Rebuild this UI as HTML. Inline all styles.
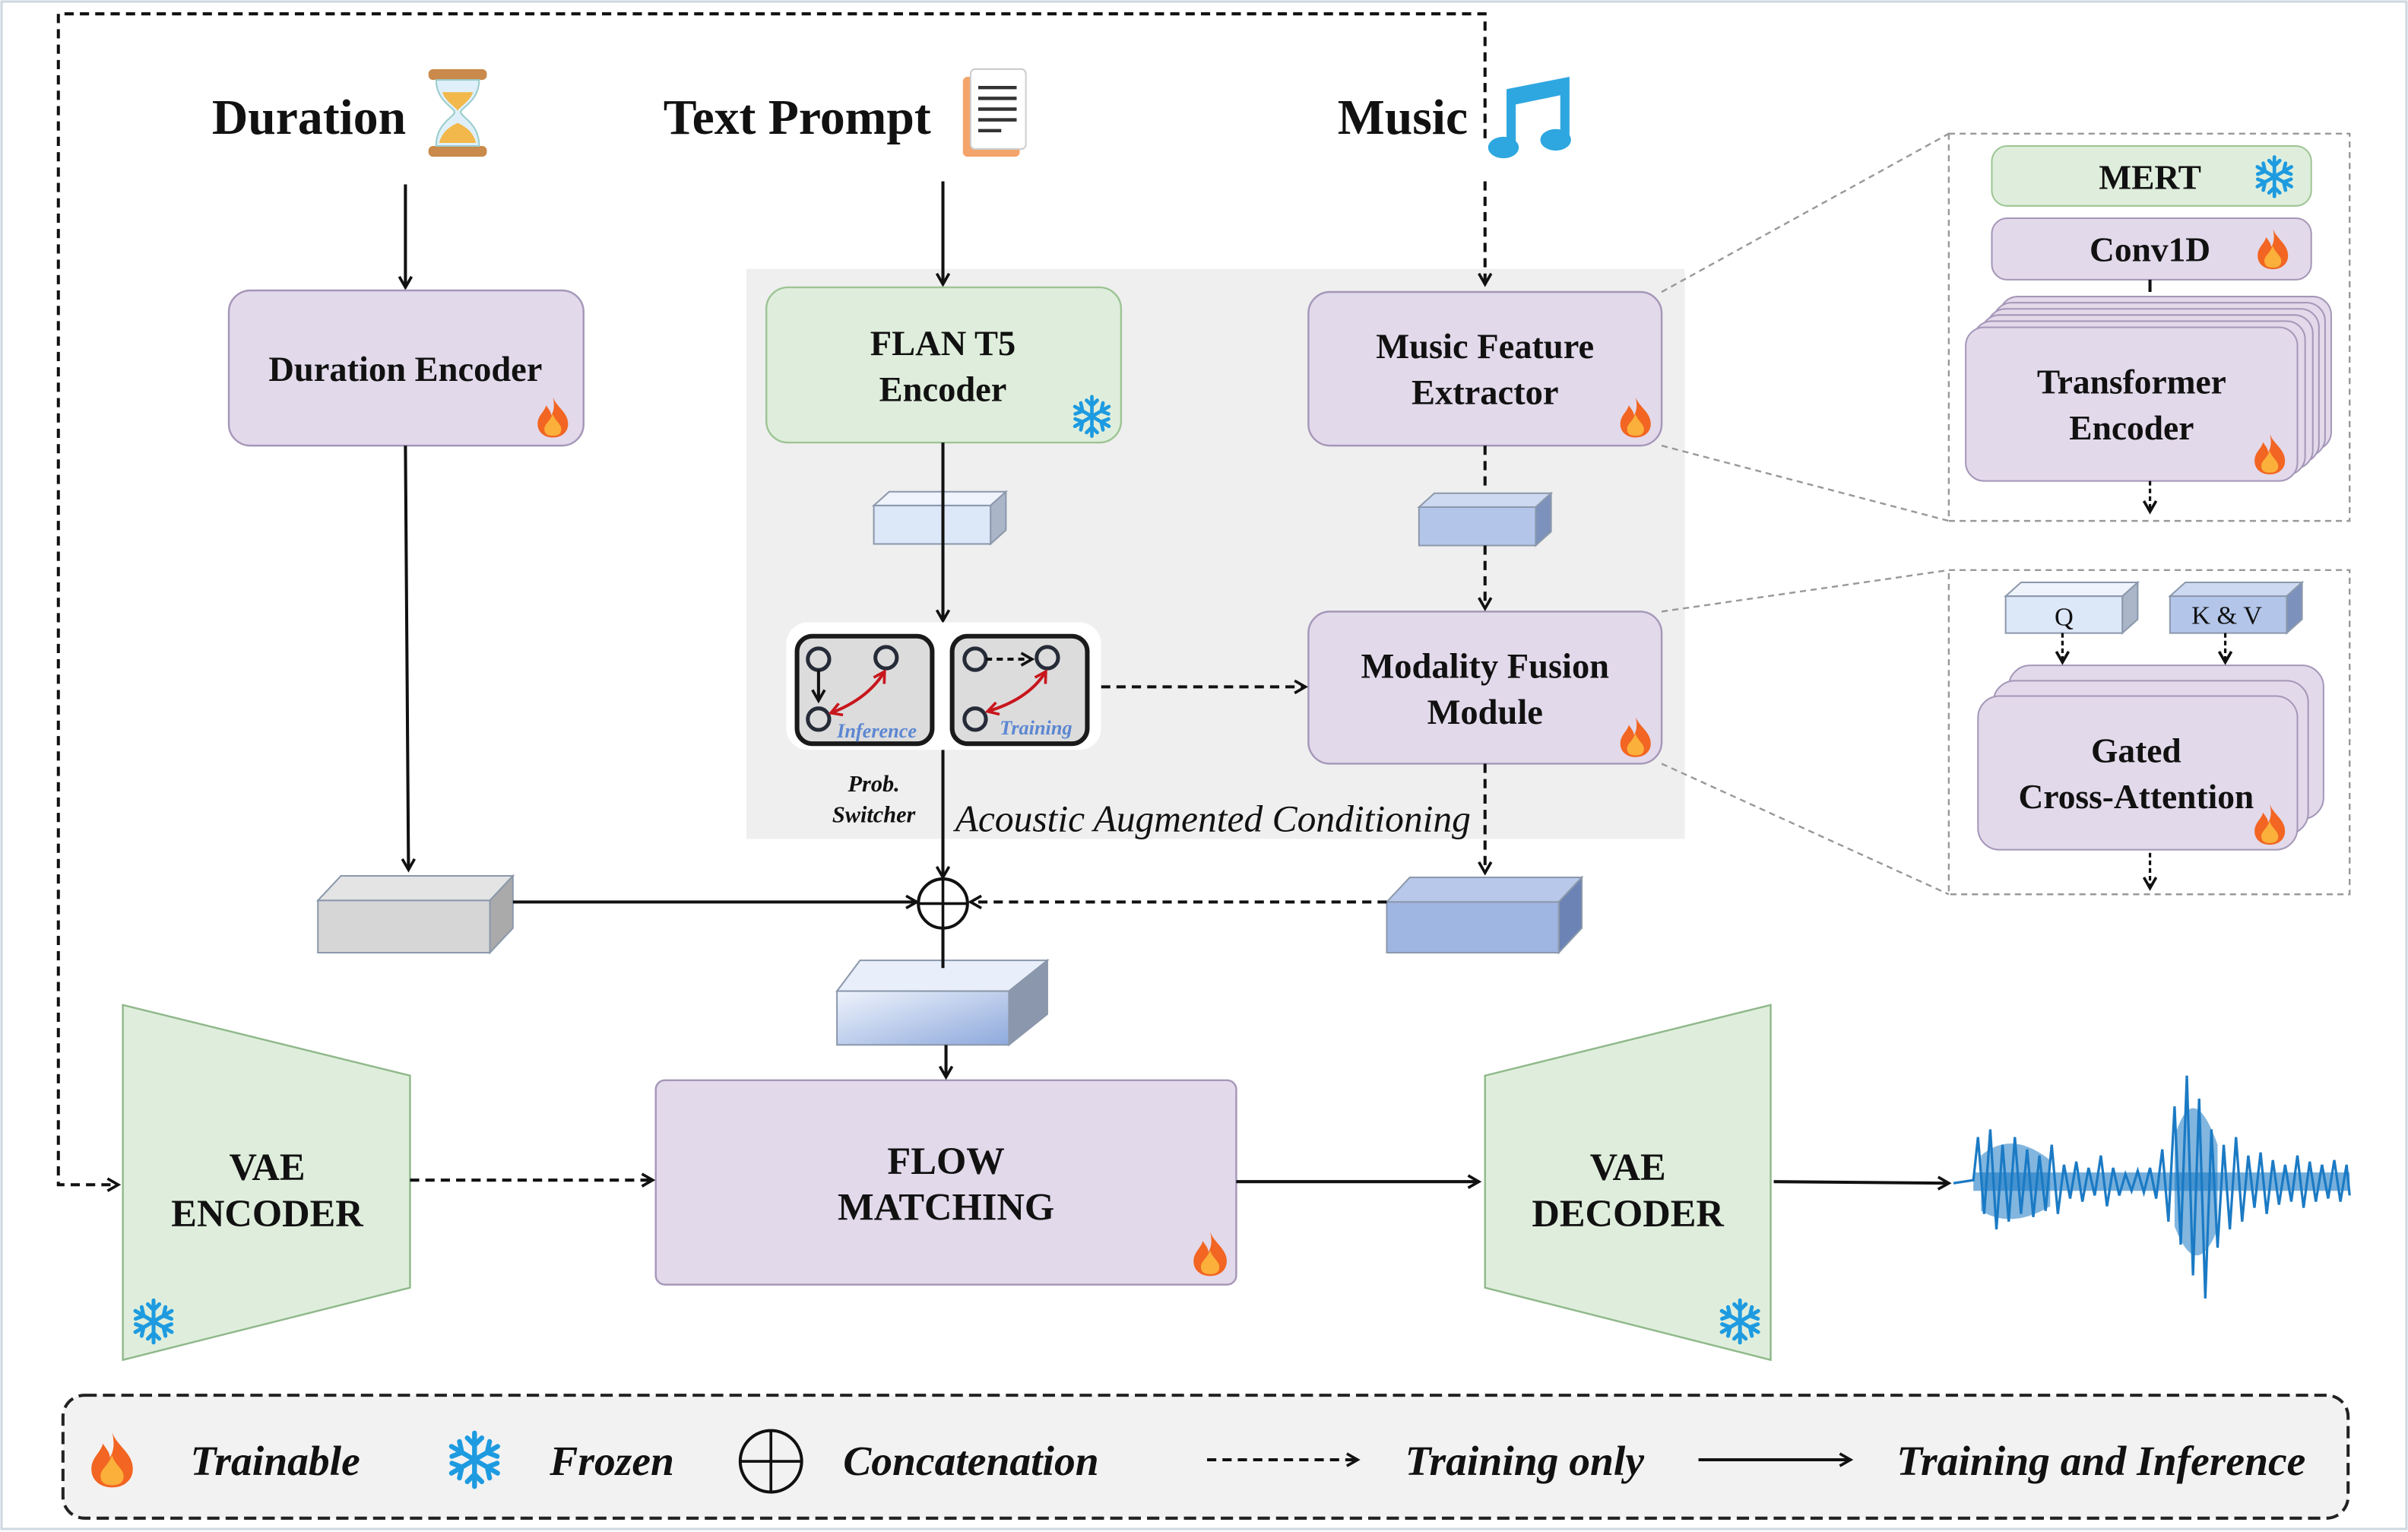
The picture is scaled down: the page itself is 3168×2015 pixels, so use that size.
<!DOCTYPE html>
<html><head><meta charset="utf-8"><style>html,body{margin:0;padding:0;background:#fff}svg{display:block}</style></head>
<body>
<svg width="3168" height="2015" viewBox="0 0 1568 997" preserveAspectRatio="none" xmlns="http://www.w3.org/2000/svg" font-family="'Liberation Serif',serif">
<defs>
<marker id="ah" markerWidth="10" markerHeight="10" refX="8" refY="5" orient="auto" markerUnits="userSpaceOnUse"><path d="M1,1 L8,5 L1,9" fill="none" stroke="#111" stroke-width="1.8"/></marker>
<marker id="ahr" markerWidth="10" markerHeight="10" refX="8" refY="5" orient="auto-start-reverse" markerUnits="userSpaceOnUse"><path d="M1,1 L8,5 L1,9" fill="none" stroke="#c8161d" stroke-width="1.8"/></marker>
<symbol id="flame" viewBox="0 0 20 26"><path d="M10,1 C12,7 19,10 19,17 C19,22 15,25 10,25 C5,25 1,22 1,17 C1,12 5,10 6,6 C8,9 9,10 9,12 C11,9 11,5 10,1Z" fill="#f26522"/><path d="M10,11 C11,15 15,17 15,20 C15,23 13,24 10,24 C7,24 5,23 5,20 C5,17 8,16 10,11Z" fill="#fbb03b"/></symbol>
<symbol id="snow" viewBox="-12 -12 24 24"><g stroke="#1e9be0" stroke-width="2" fill="none" stroke-linecap="round"><path d="M0,-11V11M-9.5,-5.5L9.5,5.5M-9.5,5.5L9.5,-5.5"/><path d="M-3,-9L0,-6L3,-9M-3,9L0,6L3,9M-9.3,-1.4L-5.2,-3L-6.2,-7.5M9.3,1.4L5.2,3L6.2,7.5M-9.3,1.4L-5.2,3L-6.2,7.5M9.3,-1.4L5.2,-3L6.2,-7.5"/></g></symbol>
<linearGradient id="gcube" x1="0" y1="0" x2="1" y2="1"><stop offset="0" stop-color="#eef3fc"/><stop offset="1" stop-color="#8ea9dc"/></linearGradient>
</defs>
<rect x="1" y="1" width="1566" height="994" fill="#fff" stroke="#cfd8e0" stroke-width="1.5"/>
<rect x="486" y="175" width="611" height="371" fill="#efefef"/>
<path d="M967,90 V9 H38 V771 H77" fill="none" stroke="#111" stroke-width="2" stroke-dasharray="6,4" marker-end="url(#ah)"/>
<g font-weight="bold" font-size="32.5" fill="#111">
<text x="138" y="87">Duration</text><text x="432" y="87">Text Prompt</text><text x="871" y="87">Music</text></g>
<g><rect x="279" y="45" width="38" height="7" rx="3" fill="#c98a4b"/><rect x="279" y="95" width="38" height="7" rx="3" fill="#c98a4b"/><path d="M284,52 H312 C312,66 300,70 300,73 C300,76 312,80 312,95 H284 C284,80 296,76 296,73 C296,70 284,66 284,52Z" fill="#dff0fa" stroke="#9cc" stroke-width="1"/><path d="M288,60 H308 C306,66 300,69 298,72 C296,69 290,66 288,60Z" fill="#f2b84b"/><path d="M286,93 C288,85 294,82 298,80 C302,82 308,85 310,93Z" fill="#f2b84b"/></g>
<g><rect x="627" y="50" width="37" height="52" rx="3" fill="#f4a46a"/><rect x="632" y="45" width="36" height="52" rx="3" fill="#fff" stroke="#ccc"/><g stroke="#333" stroke-width="2.2"><path d="M637,57H662M637,64H662M637,71H662M637,78H662M637,85H652"/></g></g>
<g fill="#2ea7e0"><path d="M981,58 L1022,50 V92 L1016,92 V62 L987,68 V96 L981,96Z"/><ellipse cx="979" cy="96" rx="10" ry="7"/><ellipse cx="1013" cy="91" rx="10" ry="7"/></g>
<g stroke="#111" stroke-width="2" fill="none">
<path d="M264,120 V187" marker-end="url(#ah)"/>
<path d="M614,118 V185" marker-end="url(#ah)"/>
<path d="M967,118 V185" stroke-dasharray="6,4" marker-end="url(#ah)"/>
</g>
<g stroke-width="1.2">
<rect x="149" y="189" width="231" height="101" rx="14" fill="#e2d9ea" stroke="#a597b8"/>
<rect x="499" y="187" width="231" height="101" rx="14" fill="#dfeedc" stroke="#9dc494"/>
<rect x="852" y="190" width="230" height="100" rx="14" fill="#e2d9ea" stroke="#a597b8"/>
<rect x="852" y="398" width="230" height="99" rx="14" fill="#e2d9ea" stroke="#a597b8"/>
<rect x="427" y="703" width="378" height="133" rx="6" fill="#e2d9ea" stroke="#a597b8"/>
</g>
<path d="M80,654 L267,700 V838 L80,885Z" fill="#dfeedc" stroke="#8fb88a" stroke-width="1.2"/>
<path d="M967,700 L1153,654 V885 L967,838Z" fill="#dfeedc" stroke="#8fb88a" stroke-width="1.2"/>
<use href="#snow" x="85" y="845" width="30" height="30"/>
<use href="#snow" x="1118" y="845" width="30" height="30"/>
<g font-weight="bold" font-size="23" fill="#111" text-anchor="middle">
<text x="264" y="248">Duration Encoder</text>
<text x="614" y="231">FLAN T5</text><text x="614" y="261">Encoder</text>
<text x="967" y="233">Music Feature</text><text x="967" y="263">Extractor</text>
<text x="967" y="441">Modality Fusion</text><text x="967" y="471">Module</text>
<text x="616" y="764" font-size="25">FLOW</text><text x="616" y="794" font-size="25">MATCHING</text>
<text x="174" y="768" font-size="25">VAE</text><text x="174" y="798" font-size="25">ENCODER</text>
<text x="1060" y="768" font-size="25">VAE</text><text x="1060" y="798" font-size="25">DECODER</text>
</g>
<use href="#flame" x="349" y="257" width="22" height="29"/>
<use href="#snow" x="697" y="257" width="28" height="28"/>
<use href="#flame" x="1054" y="257" width="22" height="29"/>
<use href="#flame" x="1054" y="465" width="22" height="29"/>
<use href="#flame" x="776" y="800" width="24" height="32"/>
<g stroke="#8b98ab" stroke-width="1">
<path d="M569,329 L579,320 H655 L645,329Z" fill="#eef3fc"/><path d="M645,329 L655,320 V345 L645,354Z" fill="#aab6c8"/><rect x="569" y="329" width="76" height="25" fill="#dce7f8"/>
<path d="M924,330 L934,321 H1010 L1000,330Z" fill="#cdd9f0"/><path d="M1000,330 L1010,321 V346 L1000,355Z" fill="#7c92bd"/><rect x="924" y="330" width="76" height="25" fill="#b3c6ea"/>
<path d="M207,586 L222,570 H334 L319,586Z" fill="#e4e4e4"/><path d="M319,586 L334,570 V604 L319,620Z" fill="#aaa"/><rect x="207" y="586" width="112" height="34" fill="#d6d6d6"/>
<path d="M903,587 L918,571 H1030 L1015,587Z" fill="#b7c8ea"/><path d="M1015,587 L1030,571 V604 L1015,620Z" fill="#6b83b5"/><rect x="903" y="587" width="112" height="33" fill="#9fb5e2"/>
<path d="M545,645 L560,625 H682 L657,645Z" fill="#e8eefa"/><path d="M657,645 L682,625 V660 L657,680Z" fill="#8a97ad"/><rect x="545" y="645" width="112" height="35" fill="url(#gcube)"/>
</g>
<g stroke="#111" stroke-width="2" fill="none">
<path d="M614,288 V404" marker-end="url(#ah)"/>
<path d="M967,290 V320" stroke-dasharray="6,4"/>
<path d="M967,355 V396" stroke-dasharray="6,4" marker-end="url(#ah)"/>
<path d="M717,447 H850" stroke-dasharray="6,4" marker-end="url(#ah)"/>
<path d="M614,488 V571" marker-end="url(#ah)"/>
<path d="M967,497 V568" stroke-dasharray="6,4" marker-end="url(#ah)"/>
<path d="M264,290 L266,566" marker-end="url(#ah)"/>
<path d="M334,587 H597" marker-end="url(#ah)"/>
<path d="M903,587 H632" stroke-dasharray="6,4" marker-end="url(#ah)"/>
<path d="M614,604 V630"/>
<path d="M616,680 V701" marker-end="url(#ah)"/>
<path d="M267,768 H425" stroke-dasharray="6,4" marker-end="url(#ah)"/>
<path d="M805,769 H963" marker-end="url(#ah)"/>
<path d="M1155,769 L1269,770" marker-end="url(#ah)"/>
</g>
<circle cx="614" cy="588" r="16" fill="#fff" stroke="#111" stroke-width="2"/>
<path d="M598,588H630M614,572V604" stroke="#111" stroke-width="1.8"/>
<rect x="512" y="405" width="205" height="83" rx="14" fill="#fff"/>
<rect x="519" y="414" width="88" height="70" rx="10" fill="#dcdcdc" stroke="#1a1a1a" stroke-width="3"/>
<rect x="620" y="414" width="88" height="70" rx="10" fill="#dcdcdc" stroke="#1a1a1a" stroke-width="3"/>
<g fill="none" stroke="#262b38" stroke-width="2.5">
<circle cx="533" cy="429" r="7"/><circle cx="577" cy="428" r="7"/><circle cx="533" cy="468" r="7"/>
<circle cx="635" cy="429" r="7"/><circle cx="682" cy="428" r="7"/><circle cx="635" cy="468" r="7"/></g>
<path d="M533,436 V456" stroke="#111" stroke-width="2" fill="none" marker-end="url(#ah)"/>
<path d="M642,429 H672" stroke="#111" stroke-width="2" stroke-dasharray="4,3" fill="none" marker-end="url(#ah)"/>
<path d="M541,464 Q565,455 576,437" stroke="#c8161d" stroke-width="2" fill="none" marker-start="url(#ahr)" marker-end="url(#ahr)"/>
<path d="M643,463 Q670,455 681,437" stroke="#c8161d" stroke-width="2" fill="none" marker-start="url(#ahr)" marker-end="url(#ahr)"/>
<g font-style="italic" font-weight="bold" font-size="13" fill="#5b86d2"><text x="545" y="480">Inference</text><text x="651" y="478">Training</text></g>
<g font-style="italic" font-weight="bold" font-size="15" fill="#111" text-anchor="middle"><text x="569" y="515">Prob.</text><text x="569" y="535">Switcher</text></g>
<text x="622" y="541" font-style="italic" font-size="24.5" fill="#111">Acoustic Augmented Conditioning</text>
<!-- waveform -->
<path d="M1272,770 L1285,768 1288,740 1292,790 1296,735 1300,800 1304,745 1308,795 1312,740 1316,790 1320,748 1324,792 1328,752 1332,788 1336,745 1340,790 1344,758 1348,780 1352,756 1356,782 1360,760 1364,778 1368,752 1372,785 1376,760 1380,778 1384,764 1388,775 1392,762 1396,776 1400,760 1404,780 1408,748 1412,795 1416,720 1420,810 1424,700 1428,830 1432,715 1436,845 1440,735 1444,812 1448,745 1452,800 1456,740 1460,795 1464,752 1468,786 1472,750 1476,790 1480,755 1484,784 1488,758 1492,782 1496,752 1500,786 1504,756 1508,782 1512,758 1516,780 1520,755 1524,782 1528,758 1530,778" fill="none" stroke="#1b7ac4" stroke-width="1.6"/>
<path d="M1290,752 Q1310,735 1335,755 L1335,785 Q1310,800 1290,788Z M1416,740 Q1428,700 1444,745 L1444,800 Q1430,835 1416,798Z" fill="#1b7ac4" opacity="0.55"/>
<rect x="1285" y="763" width="245" height="12" fill="#1b7ac4" opacity="0.6"/>
<g stroke="#999" stroke-width="1.2" stroke-dasharray="4,3" fill="none">
<rect x="1269" y="87" width="261" height="252"/><rect x="1269" y="371" width="261" height="211"/>
<path d="M1082,190 L1269,87 M1082,290 L1269,339 M1082,398 L1269,371 M1082,497 L1269,582"/>
</g>
<rect x="1297" y="95" width="208" height="39" rx="10" fill="#dfeedc" stroke="#9dc494"/>
<rect x="1297" y="142" width="208" height="40" rx="10" fill="#e2d9ea" stroke="#a597b8"/>
<path d="M1400,182V190" stroke="#111" stroke-width="2"/>
<g fill="#e2d9ea" stroke="#a597b8">
<rect x="1302" y="193" width="216" height="100" rx="12"/><rect x="1298" y="197" width="216" height="100" rx="12"/><rect x="1294" y="201" width="216" height="100" rx="12"/><rect x="1290" y="205" width="216" height="100" rx="12"/><rect x="1285" y="209" width="216" height="100" rx="12"/><rect x="1280" y="213" width="216" height="100" rx="12"/>
<rect x="1308" y="433" width="205" height="100" rx="14"/><rect x="1298" y="443" width="205" height="100" rx="14"/><rect x="1288" y="453" width="208" height="100" rx="14"/>
</g>
<g font-weight="bold" font-size="22.5" fill="#111" text-anchor="middle">
<text x="1400" y="123">MERT</text><text x="1400" y="170">Conv1D</text>
<text x="1388" y="256">Transformer</text><text x="1388" y="286">Encoder</text>
<text x="1391" y="496">Gated</text><text x="1391" y="526">Cross-Attention</text>
</g>
<use href="#snow" x="1467" y="101" width="28" height="28"/>
<use href="#flame" x="1469" y="147" width="22" height="30"/>
<use href="#flame" x="1467" y="281" width="22" height="29"/>
<use href="#flame" x="1467" y="522" width="22" height="29"/>
<g stroke="#8b98ab" stroke-width="1">
<path d="M1306,388 L1316,379 H1392 L1382,388Z" fill="#eef3fc"/><path d="M1382,388 L1392,379 V403 L1382,412Z" fill="#aab6c8"/><rect x="1306" y="388" width="76" height="24" fill="#dce7f8"/>
<path d="M1413,388 L1423,379 H1499 L1489,388Z" fill="#cdd9f0"/><path d="M1489,388 L1499,379 V403 L1489,412Z" fill="#7c92bd"/><rect x="1413" y="388" width="76" height="24" fill="#b3c6ea"/>
</g>
<g font-size="17" fill="#111" text-anchor="middle"><text x="1344" y="407">Q</text><text x="1450" y="406">K &amp; V</text></g>
<g stroke="#111" stroke-width="1.6" fill="none" stroke-dasharray="3,2">
<path d="M1343,412V431" marker-end="url(#ah)"/><path d="M1449,412V431" marker-end="url(#ah)"/>
<path d="M1400,313V333" marker-end="url(#ah)"/><path d="M1400,555V578" marker-end="url(#ah)"/>
</g>
<rect x="41" y="908" width="1488" height="80" rx="14" fill="#f2f2f2" stroke="#222" stroke-width="2" stroke-dasharray="8,4"/>
<use href="#flame" x="58" y="930" width="30" height="40"/>
<use href="#snow" x="290" y="931" width="38" height="38"/>
<circle cx="502" cy="951" r="20" fill="none" stroke="#111" stroke-width="2"/><path d="M482,951H522M502,931V971" stroke="#111" stroke-width="1.8"/>
<path d="M786,950 H884" stroke="#111" stroke-width="2" stroke-dasharray="6,4" fill="none" marker-end="url(#ah)"/>
<path d="M1106,950 H1205" stroke="#111" stroke-width="2" fill="none" marker-end="url(#ah)"/>
<g font-style="italic" font-weight="bold" font-size="27.5" fill="#111">
<text x="124" y="960">Trainable</text><text x="358" y="960">Frozen</text><text x="549" y="960">Concatenation</text><text x="915" y="960">Training only</text><text x="1235" y="960">Training and Inference</text>
</g>
</svg>
</body></html>
